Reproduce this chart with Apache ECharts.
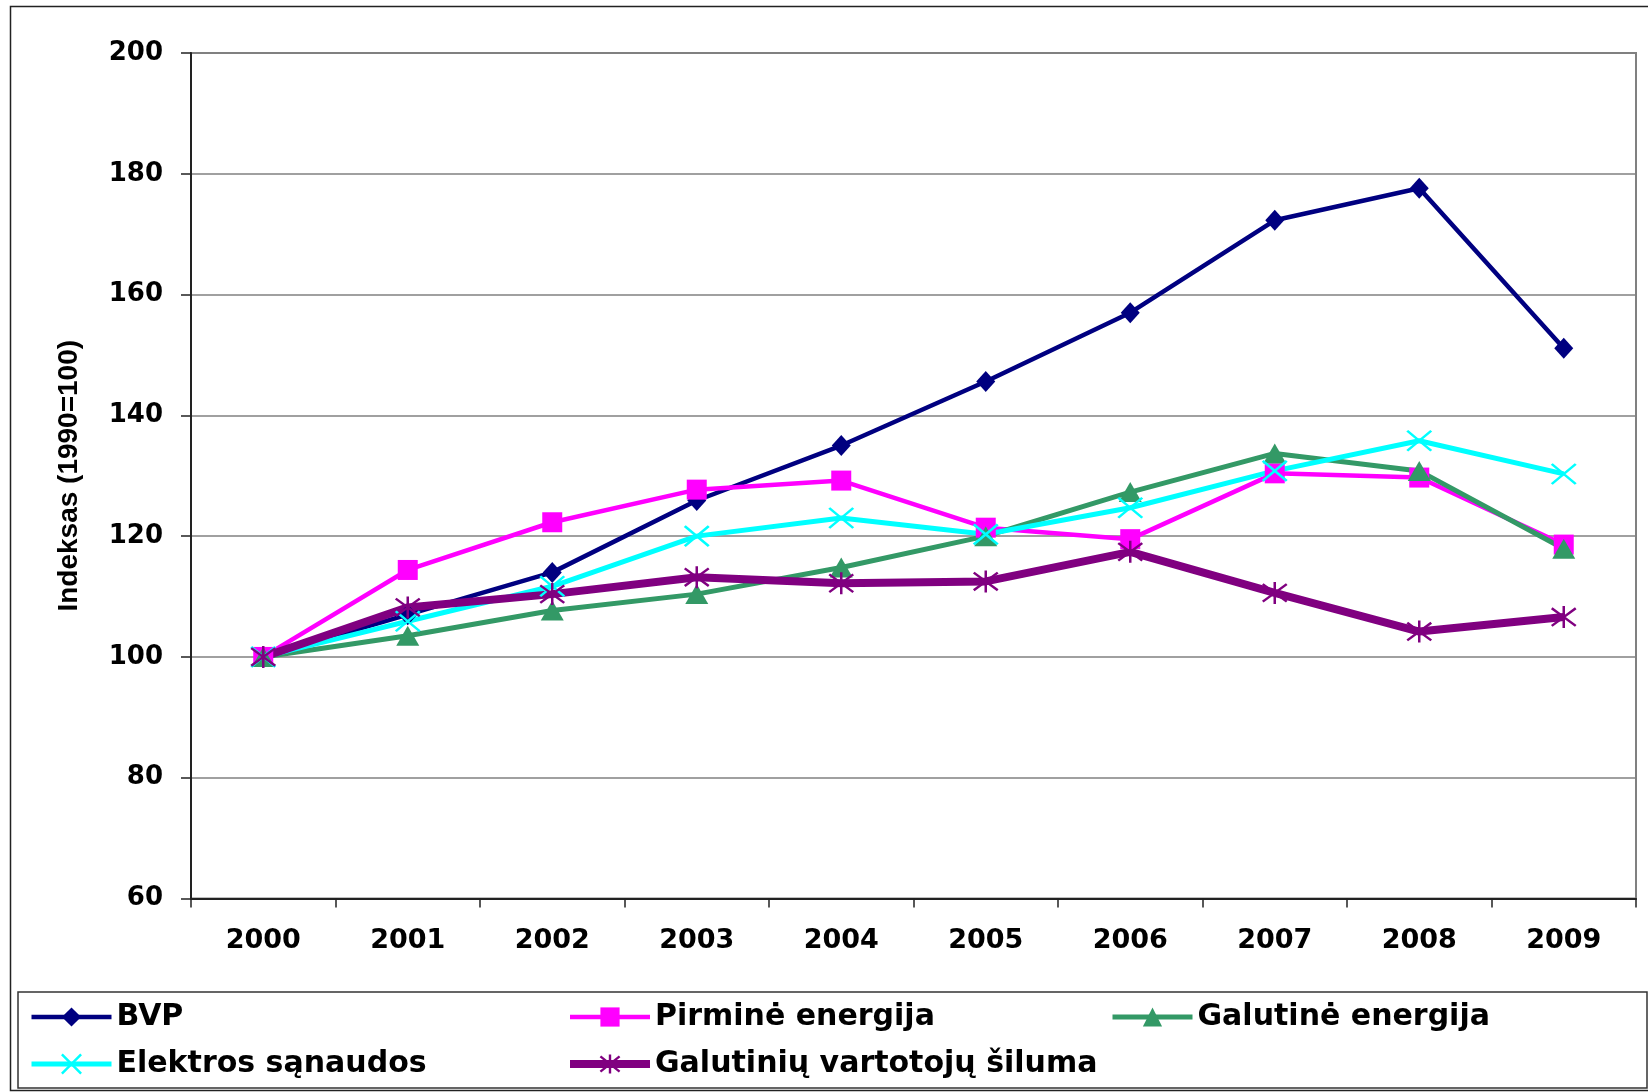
<!DOCTYPE html>
<html>
<head>
<meta charset="utf-8">
<script src="https://cdn.jsdelivr.net/npm/echarts@6/dist/echarts.min.js"></script>
<style>
html,body{margin:0;padding:0;background:#fff;}
#c{width:1648px;height:1092px;}
</style>
</head>
<body>
<div id="c"></div>
<script>
const years = ['2000','2001','2002','2003','2004','2005','2006','2007','2008','2009'];
const bvp      = [100, 107.0, 114.0, 125.9, 135.0, 145.6, 157.0, 172.3, 177.6, 151.1];
const pirmine  = [100, 114.4, 122.3, 127.7, 129.2, 121.4, 119.5, 130.4, 129.7, 118.6];
const galutine = [100, 103.5, 107.7, 110.4, 114.8, 120.0, 127.3, 133.7, 130.8, 117.9];
const elektros = [100, 105.9, 111.7, 120.0, 123.0, 120.3, 124.7, 130.8, 135.8, 130.3];
const siluma   = [100, 108.2, 110.4, 113.2, 112.2, 112.5, 117.4, 110.6, 104.2, 106.6];
const yMin = 60, yMax = 200, yStep = 20;
const names = ['BVP','Pirminė energija','Galutinė energija','Elektros sąnaudos','Galutinių vartotojų šiluma'];
const yTitle = 'Indeksas (1990=100)';

const X_PATH = 'path://M0,0L20,20M20,0L0,20';
const STAR_PATH = 'path://M0,2L20,18M20,2L0,18M10,0L10,20';

const chart = echarts.init(document.getElementById('c'));
const lbl = {fontFamily:'DejaVu Sans', fontWeight:'bold', color:'#000'};
const legendText = {fontFamily:'DejaVu Sans', fontWeight:'bold', fontSize:30, color:'#000'};
function legendCfg(left, items){
  return {
    orient:'vertical', left:left, top:1002, padding:0,
    itemWidth:80, itemHeight:24, itemGap:17,
    textStyle: legendText,
    data: items
  };
}
const series = [
  {name:names[0], data:bvp, color:'#000080', lw:4.5, symbol:'diamond', size:[19,21], bw:0},
  {name:names[1], data:pirmine, color:'#FF00FF', lw:4.5, symbol:'rect', size:[20,20], bw:0},
  {name:names[2], data:galutine, color:'#339966', lw:5, symbol:'triangle', size:[23,20], bw:0},
  {name:names[3], data:elektros, color:'#00FFFF', lw:5, symbol:X_PATH, size:[24,20], bw:2.5},
  {name:names[4], data:siluma, color:'#800080', lw:8, symbol:STAR_PATH, size:[24,22], bw:2.4}
];
function legItem(i){
  const s = series[i];
  return {name:s.name, itemStyle:{color:s.color, borderColor:s.color, borderWidth:s.bw},
          lineStyle:{color:s.color, width:s.lw}};
}
chart.setOption({
  backgroundColor:'#fff',
  animation:false,
  grid:{left:191, right:12, top:53, bottom:193.5, show:true, borderColor:'#808080', borderWidth:2, backgroundColor:'transparent'},
  legend:[
    legendCfg(29, [legItem(0), legItem(3)]),
    legendCfg(566, [legItem(1), legItem(4)]),
    legendCfg(1110, [legItem(2)])
  ],
  graphic:[
    {type:'rect', shape:{x:10.5, y:6.5, width:1640, height:1084}, style:{fill:'none', stroke:'#222', lineWidth:1.5}, silent:true, z:-1},
    {type:'rect', shape:{x:18, y:992, width:1629, height:96}, style:{fill:'none', stroke:'#333', lineWidth:1.5}, silent:true, z:-1}
  ],
  xAxis:{
    type:'category', data:years, boundaryGap:true,
    axisLine:{show:true, lineStyle:{color:'#222', width:2}},
    axisTick:{show:true, length:9, lineStyle:{color:'#222', width:1.5}},
    axisLabel:Object.assign({fontSize:27, margin:29}, lbl),
    splitLine:{show:false}
  },
  yAxis:{
    type:'value', min:yMin, max:yMax, interval:yStep,
    name:yTitle, nameLocation:'middle', nameRotate:90, nameGap:108,
    nameTextStyle:{fontFamily:'Liberation Sans', fontWeight:'bold', fontSize:28, color:'#000'},
    axisLine:{show:true, lineStyle:{color:'#222', width:2}},
    axisTick:{show:true, length:10, lineStyle:{color:'#222', width:1.5}},
    axisLabel:Object.assign({fontSize:26, margin:28}, lbl),
    splitLine:{show:true, lineStyle:{color:'#808080', width:1.5}}
  },
  series: series.map(s => ({
    name:s.name, type:'line', data:s.data,
    symbol:s.symbol, symbolSize:s.size, symbolKeepAspect:false,
    lineStyle:{color:s.color, width:s.lw},
    itemStyle:{color:s.color, borderColor:s.color, borderWidth:s.bw},
    emphasis:{disabled:true}
  }))
});
</script>
</body>
</html>
